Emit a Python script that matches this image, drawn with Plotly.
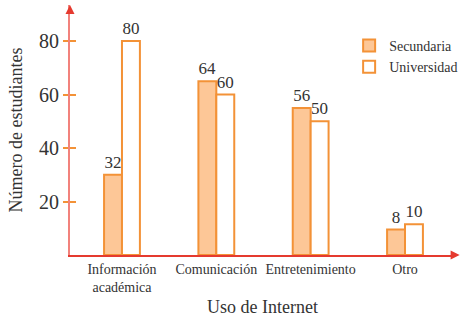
import plotly.graph_objects as go

categories = ["Información<br>académica", "Comunicación", "Entretenimiento", "Otro"]
secundaria_heights = [30, 65, 55, 9.5]
universidad_heights = [80, 60, 50, 11.5]
secundaria_labels = ["32", "64", "56", "8"]
universidad_labels = ["80", "60", "50", "10"]
y_ticks = [20, 40, 60, 80]

FONT = "Liberation Serif, Times New Roman, DejaVu Serif, serif"
TXT = "#333333"
ORANGE = "#F39237"
FILL = "#FDC797"

fig = go.Figure()
fig.add_trace(go.Bar(
    x=categories, y=secundaria_heights, name="Secundaria",
    text=secundaria_labels, textposition="outside", cliponaxis=False,
    textfont=dict(family=FONT, size=17, color=TXT),
    marker=dict(color=FILL, line=dict(color=ORANGE, width=2)),
))
fig.add_trace(go.Bar(
    x=categories, y=universidad_heights, name="Universidad",
    text=universidad_labels, textposition="outside", cliponaxis=False,
    textfont=dict(family=FONT, size=17, color=TXT),
    marker=dict(color="white", line=dict(color=ORANGE, width=2)),
))
fig.add_trace(go.Scatter(x=[categories[0]], y=[0], yaxis="y2", mode="markers",
                         marker=dict(opacity=0), showlegend=False, hoverinfo="skip"))

fig.update_layout(
    width=462, height=318,
    margin=dict(l=70, r=7, t=5, b=63, autoexpand=False),
    paper_bgcolor="white", plot_bgcolor="white",
    barmode="group", bargap=0.62, bargroupgap=0,
    font=dict(family=FONT, color=TXT),
    showlegend=True,
    legend=dict(x=0.725, y=0.9, xanchor="left", yanchor="top",
                font=dict(family=FONT, size=14, color=TXT),
                bgcolor="rgba(0,0,0,0)", tracegroupgap=6, itemwidth=30),
    xaxis=dict(
        range=[-0.551, 3.53], showgrid=False, zeroline=False, automargin=False,
        showline=True, linecolor="#E53A2F", linewidth=1.5,
        ticks="", tickfont=dict(family=FONT, size=14, color=TXT),
        title=dict(text="Uso de Internet", font=dict(family=FONT, size=18, color=TXT), standoff=7),
    ),
    yaxis=dict(
        range=[0, 93.46], showgrid=False, zeroline=False, automargin=False,
        showline=True, linecolor="#F2827C", linewidth=2,
        tickvals=y_ticks, ticks="outside", ticklen=5, tickcolor=ORANGE, tickwidth=1.5,
        tickfont=dict(family=FONT, size=20, color=TXT),
        title=dict(text="Número de estudiantes", font=dict(family=FONT, size=18, color=TXT), standoff=12),
    ),
    yaxis2=dict(
        range=[0, 93.46], overlaying="y", side="left", showgrid=False, zeroline=False,
        automargin=False,
        tickvals=[0] + y_ticks, ticks="inside", ticklen=6, tickcolor=ORANGE, tickwidth=1.5,
        showticklabels=False, showline=False,
    ),
    annotations=[
        dict(x=1.012, y=0, xref="paper", yref="paper", ax=-8, ay=0, text="",
             showarrow=True, arrowhead=2, arrowsize=1.2, arrowwidth=1.5, arrowcolor="#E53A2F"),
        dict(x=0, y=1.0, xref="paper", yref="paper", ax=0, ay=8, text="",
             showarrow=True, arrowhead=2, arrowsize=1.2, arrowwidth=1.5, arrowcolor="#E53A2F"),
    ],
)

fig.write_html("out.html", config={"displayModeBar": False},
               post_script="document.body.style.margin='0';")
